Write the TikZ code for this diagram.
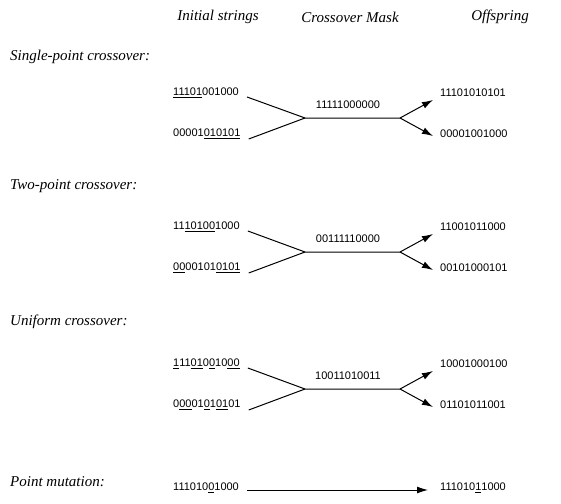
\documentclass[tikz,border=0pt]{standalone}
\usepackage{fontspec}
\setmainfont{Liberation Serif}
\setsansfont{Liberation Sans}
\usetikzlibrary{arrows.meta,positioning}
\newcommand{\bits}[1]{\underline{#1}}

\begin{document}
\begin{tikzpicture}[x=1pt,y=-1pt]
%% styles
\tikzstyle{head}=[font=\itshape\fontsize{15}{17}\selectfont,inner sep=0pt]
\tikzstyle{opname}=[head,anchor=west]
\tikzstyle{string}=[font=\sffamily\fontsize{11}{13}\selectfont,inner sep=0pt,anchor=west]
\tikzstyle{mask}=[string,anchor=center]
\tikzstyle{wire}=[line width=1pt]
\tikzstyle{arrow}=[wire,-{Latex[length=11pt,width=7pt]}]

\useasboundingbox (0,0) rectangle (561,503);

%% column heads
\foreach \name/\x/\txt in {init/218/Initial strings,cmask/350/Crossover Mask,off/500/Offspring}
\node[head] (H-\name) at (\x,17) {\txt};

%% operator names
\foreach \name/\y/\txt in {single/57/Single-point crossover:,two/186/Two-point crossover:,uni/322/Uniform crossover:,mut/482/Point mutation:}
\node[opname] (L-\name) at (10,\y) {\txt};

%% crossover blocks
% parents, mask, offspring
\foreach \name/\y/\pa/\pb/\m/\oa/\ob in {
  single/93/{\bits{11101}001000}/{00001\bits{010101}}/11111000000/11101010101/00001001000,
  two/227/{11\bits{10100}1000}/{\bits{00}00101\bits{0101}}/00111110000/11001011000/00101000101,
  uni/364/{\bits{1}11\bits{01}0\bits{0}10\bits{00}}/{0\bits{00}01\bits{0}1\bits{01}01}/10011010011/10001000100/01101011001}
{
\node[string] (\name-pa) at (173,\y) {\pa};
\node[string] (\name-pb) at (173,\y+41) {\pb};
\node[mask] (\name-m) at (348,\y+12) {\m};
\node[string] (\name-oa) at (440,\y) {\oa};
\node[string] (\name-ob) at (440,\y+41) {\ob};
\coordinate (\name-in) at (305,\y+25);
\coordinate (\name-out) at (400,\y+25);
% arrows
\draw[wire] ([shift={(8pt,-4pt)}]\name-pa.east) -- (\name-in) -- (\name-out);
\draw[wire] ([shift={(8pt,-5pt)}]\name-pb.east) -- (\name-in);
\draw[arrow] (\name-out) -- ([shift={(-7pt,-7pt)}]\name-oa.west);
\draw[arrow] (\name-out) -- ([shift={(-7pt,-2pt)}]\name-ob.west);
}

%% point mutation
\node[string] (mut-p) at (173,488) {111010\bits{0}1000};
\node[string] (mut-o) at (440,488) {111010\bits{1}1000};
\draw[arrow] ([shift={(8pt,-2pt)}]mut-p.east) -- ([shift={(-12pt,-2pt)}]mut-o.west);
\end{tikzpicture}
\end{document}
